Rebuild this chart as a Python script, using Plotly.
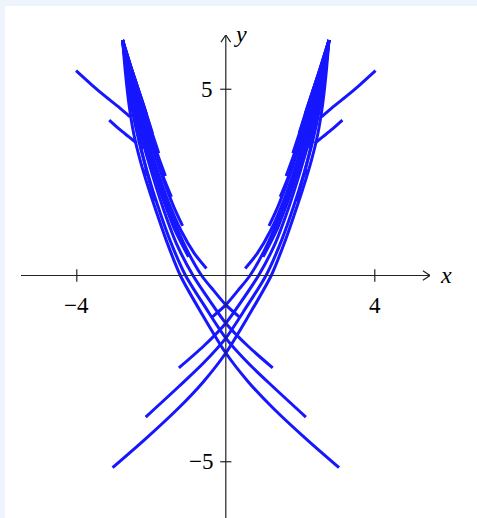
import plotly.graph_objects as go

# ---- rising curves (right-hand bundle) ----
r1_x = [-3.04, -2.17, -1.26, -0.6, 0.0, 0.6, 1.22, 1.6, 1.86, 2.06, 2.3, 2.47, 2.6, 2.69, 2.77]
r1_y = [-5.16, -4.40, -3.55, -2.85, -2.08, -1.10, 0.0, 0.95, 1.7, 2.3, 3.1, 3.8, 4.6, 5.4, 6.32]
r2_x = [-2.15, -1.26, -0.6, 0.0, 0.55, 1.08, 1.5, 1.82, 2.1, 2.33, 2.52, 2.66, 2.77]
r2_y = [-3.80, -2.98, -2.35, -1.68, -0.85, 0.0, 0.95, 1.85, 2.75, 3.6, 4.5, 5.4, 6.32]
r3_x = [-1.26, -0.6, 0.0, 0.45, 0.88, 1.3, 1.68, 2.0, 2.27, 2.5, 2.65, 2.77]
r3_y = [-2.48, -1.9, -1.28, -0.65, 0.0, 0.8, 1.8, 2.8, 3.75, 4.7, 5.5, 6.32]
r4_x = [-0.36, 0.0, 0.33, 0.65, 1.05, 1.45, 1.82, 2.15, 2.43, 2.62, 2.77]
r4_y = [-1.11, -0.79, -0.4, 0.0, 0.7, 1.6, 2.65, 3.7, 4.7, 5.5, 6.32]
r5_x = [0.52, 0.85, 1.2, 1.55, 1.88, 2.18, 2.45, 2.63, 2.77]
r5_y = [0.19, 0.6, 1.2, 2.0, 2.95, 3.95, 4.95, 5.65, 6.32]
r6_x = [1.16, 1.4, 1.65, 1.9, 2.15, 2.4, 2.6, 2.77]
r6_y = [1.33, 1.85, 2.5, 3.25, 4.05, 4.9, 5.6, 6.32]
r7_x = [1.46, 1.68, 1.92, 2.18, 2.43, 2.62, 2.77]
r7_y = [2.11, 2.65, 3.35, 4.15, 5.0, 5.65, 6.32]
r8_x = [1.62, 1.85, 2.1, 2.35, 2.57, 2.77]
r8_y = [2.67, 3.3, 4.1, 4.9, 5.6, 6.32]
r9_x = [1.80, 2.02, 2.27, 2.5, 2.77]
r9_y = [3.28, 3.95, 4.75, 5.45, 6.32]
r10_x = [1.97, 2.2, 2.45, 2.77]
r10_y = [3.82, 4.55, 5.3, 6.32]
r11_x = [2.13, 2.37, 2.58, 2.77]
r11_y = [4.33, 5.05, 5.7, 6.32]
r12_x = [1.7, 1.98, 2.24, 2.46, 2.64, 2.77]
r12_y = [2.3, 3.1, 3.95, 4.75, 5.5, 6.32]
r13_x = [1.35, 1.65, 1.95, 2.22, 2.46, 2.64, 2.77]
r13_y = [1.2, 1.95, 2.85, 3.8, 4.75, 5.55, 6.32]
r14_x = [1.0, 1.4, 1.75, 2.05, 2.33, 2.56, 2.77]
r14_y = [0.5, 1.3, 2.3, 3.3, 4.3, 5.3, 6.32]
r15_x = [1.9, 2.15, 2.38, 2.56, 2.68, 2.77]
r15_y = [2.0, 2.9, 3.9, 4.9, 5.6, 6.32]
r16_x = [2.25, 2.45, 2.62, 2.77]
r16_y = [3.4, 4.3, 5.3, 6.32]
# short arcs entering the right bundle from the outside
i1_x = [4.02, 3.6, 3.2, 2.85, 2.57]
i1_y = [5.50, 5.12, 4.78, 4.5, 4.26]
i2_x = [3.13, 2.85, 2.6, 2.39]
i2_y = [4.17, 3.92, 3.72, 3.55]
i3_x = [2.21, 2.08]
i3_y = [2.83, 2.68]

# ---- falling curves (left-hand bundle) ----
l1_x = [3.04, 2.17, 1.26, 0.6, 0.0, -0.6, -1.22, -1.6, -1.86, -2.06, -2.3, -2.47, -2.6, -2.69, -2.77]
l1_y = [-5.16, -4.40, -3.55, -2.85, -2.08, -1.10, 0.0, 0.95, 1.7, 2.3, 3.1, 3.8, 4.6, 5.4, 6.32]
l2_x = [2.15, 1.26, 0.6, 0.0, -0.55, -1.08, -1.5, -1.82, -2.1, -2.33, -2.52, -2.66, -2.77]
l2_y = [-3.80, -2.98, -2.35, -1.68, -0.85, 0.0, 0.95, 1.85, 2.75, 3.6, 4.5, 5.4, 6.32]
l3_x = [1.26, 0.6, 0.0, -0.45, -0.88, -1.3, -1.68, -2.0, -2.27, -2.5, -2.65, -2.77]
l3_y = [-2.48, -1.9, -1.28, -0.65, 0.0, 0.8, 1.8, 2.8, 3.75, 4.7, 5.5, 6.32]
l4_x = [0.36, 0.0, -0.33, -0.65, -1.05, -1.45, -1.82, -2.15, -2.43, -2.62, -2.77]
l4_y = [-1.11, -0.79, -0.4, 0.0, 0.7, 1.6, 2.65, 3.7, 4.7, 5.5, 6.32]
l5_x = [-0.52, -0.85, -1.2, -1.55, -1.88, -2.18, -2.45, -2.63, -2.77]
l5_y = [0.19, 0.6, 1.2, 2.0, 2.95, 3.95, 4.95, 5.65, 6.32]
l6_x = [-1.16, -1.4, -1.65, -1.9, -2.15, -2.4, -2.6, -2.77]
l6_y = [1.33, 1.85, 2.5, 3.25, 4.05, 4.9, 5.6, 6.32]
l7_x = [-1.46, -1.68, -1.92, -2.18, -2.43, -2.62, -2.77]
l7_y = [2.11, 2.65, 3.35, 4.15, 5.0, 5.65, 6.32]
l8_x = [-1.62, -1.85, -2.1, -2.35, -2.57, -2.77]
l8_y = [2.67, 3.3, 4.1, 4.9, 5.6, 6.32]
l9_x = [-1.80, -2.02, -2.27, -2.5, -2.77]
l9_y = [3.28, 3.95, 4.75, 5.45, 6.32]
l10_x = [-1.97, -2.2, -2.45, -2.77]
l10_y = [3.82, 4.55, 5.3, 6.32]
l11_x = [-2.13, -2.37, -2.58, -2.77]
l11_y = [4.33, 5.05, 5.7, 6.32]
l12_x = [-1.7, -1.98, -2.24, -2.46, -2.64, -2.77]
l12_y = [2.3, 3.1, 3.95, 4.75, 5.5, 6.32]
l13_x = [-1.35, -1.65, -1.95, -2.22, -2.46, -2.64, -2.77]
l13_y = [1.2, 1.95, 2.85, 3.8, 4.75, 5.55, 6.32]
l14_x = [-1.0, -1.4, -1.75, -2.05, -2.33, -2.56, -2.77]
l14_y = [0.5, 1.3, 2.3, 3.3, 4.3, 5.3, 6.32]
l15_x = [-1.9, -2.15, -2.38, -2.56, -2.68, -2.77]
l15_y = [2.0, 2.9, 3.9, 4.9, 5.6, 6.32]
l16_x = [-2.25, -2.45, -2.62, -2.77]
l16_y = [3.4, 4.3, 5.3, 6.32]
j1_x = [-4.02, -3.6, -3.2, -2.85, -2.57]
j1_y = [5.50, 5.12, 4.78, 4.5, 4.26]
j2_x = [-3.13, -2.85, -2.6, -2.39]
j2_y = [4.17, 3.92, 3.72, 3.55]
j3_x = [-2.21, -2.08]
j3_y = [2.83, 2.68]

curves = [
    (r1_x, r1_y), (r2_x, r2_y), (r3_x, r3_y), (r4_x, r4_y), (r5_x, r5_y),
    (r6_x, r6_y), (r7_x, r7_y), (r8_x, r8_y), (r9_x, r9_y), (r10_x, r10_y),
    (r11_x, r11_y), (r12_x, r12_y), (r13_x, r13_y), (r14_x, r14_y),
    (r15_x, r15_y), (r16_x, r16_y),
    (i1_x, i1_y), (i2_x, i2_y), (i3_x, i3_y),
    (l1_x, l1_y), (l2_x, l2_y), (l3_x, l3_y), (l4_x, l4_y), (l5_x, l5_y),
    (l6_x, l6_y), (l7_x, l7_y), (l8_x, l8_y), (l9_x, l9_y), (l10_x, l10_y),
    (l11_x, l11_y), (l12_x, l12_y), (l13_x, l13_y), (l14_x, l14_y),
    (l15_x, l15_y), (l16_x, l16_y),
    (j1_x, j1_y), (j2_x, j2_y), (j3_x, j3_y),
]

x_ticks = [-4, 4]
x_tick_text = ["\u22124", "4"]
y_ticks = [-5, 5]
y_tick_text = ["\u22125", "5"]

X_MIN, X_MAX = -5.498, 5.482
Y_MIN, Y_MAX = -6.51, 6.456

CURVE_COLOR = "rgb(22,22,255)"
AXIS_COLOR = "#222222"
FONT = "Liberation Serif"

fig = go.Figure()
for cx, cy in curves:
    fig.add_trace(go.Scatter(
        x=cx, y=cy, mode="lines",
        line=dict(color=CURVE_COLOR, width=3.0, shape="spline", smoothing=0.8),
        hoverinfo="skip", showlegend=False,
    ))

shapes = []
# white sheet over the pale page background
shapes.append(dict(type="rect", xref="paper", yref="paper",
                   x0=-0.0391, x1=1.12, y0=-0.01, y1=1.0600,
                   fillcolor="white", line=dict(width=0), layer="below"))
# axis lines through the origin
shapes.append(dict(type="line", x0=X_MIN, x1=X_MAX, y0=0, y1=0,
                   line=dict(color=AXIS_COLOR, width=1.2)))
shapes.append(dict(type="line", x0=0, x1=0, y0=Y_MIN, y1=Y_MAX,
                   line=dict(color=AXIS_COLOR, width=1.2)))
# open arrow heads
for dy in (0.13, -0.13):
    shapes.append(dict(type="line", x0=X_MAX, y0=0, x1=X_MAX - 0.19, y1=dy,
                       line=dict(color=AXIS_COLOR, width=1.2)))
for dx in (0.13, -0.13):
    shapes.append(dict(type="line", x0=0, y0=Y_MAX, x1=dx, y1=Y_MAX - 0.19,
                       line=dict(color=AXIS_COLOR, width=1.2)))
# crossing tick marks
for t in x_ticks:
    shapes.append(dict(type="line", x0=t, x1=t, y0=-0.17, y1=0.17,
                       line=dict(color=AXIS_COLOR, width=1.2)))
for t in y_ticks:
    shapes.append(dict(type="line", x0=-0.15, x1=0.15, y0=t, y1=t,
                       line=dict(color=AXIS_COLOR, width=1.2)))

annotations = []
for t, s in zip(x_ticks, x_tick_text):
    annotations.append(dict(x=t, y=0, text=s, showarrow=False, yshift=-30,
                            xanchor="center", yanchor="middle",
                            font=dict(family=FONT, size=23, color="black")))
for t, s in zip(y_ticks, y_tick_text):
    annotations.append(dict(x=0, y=t, text=s, showarrow=False, xshift=-11,
                            xanchor="right", yanchor="middle",
                            font=dict(family=FONT, size=23, color="black")))
annotations.append(dict(x=X_MAX, y=0, text="<i>x</i>", showarrow=False,
                        xshift=8, xanchor="left", yanchor="middle",
                        font=dict(family=FONT, size=24, color="black")))
annotations.append(dict(x=0, y=Y_MAX, text="<i>y</i>", showarrow=False,
                        xshift=6, yshift=1, xanchor="left", yanchor="middle",
                        font=dict(family=FONT, size=24, color="black")))

fig.update_layout(
    width=477, height=518, autosize=False,
    margin=dict(l=21, r=47, t=35, b=0, pad=0),
    paper_bgcolor="#eef4fb", plot_bgcolor="white",
    xaxis=dict(range=[X_MIN, X_MAX], showgrid=False, zeroline=False,
               showticklabels=False, showline=False, ticks="", fixedrange=True),
    yaxis=dict(range=[Y_MIN, Y_MAX], showgrid=False, zeroline=False,
               showticklabels=False, showline=False, ticks="", fixedrange=True),
    shapes=shapes, annotations=annotations,
)

fig.write_html("out.html")
